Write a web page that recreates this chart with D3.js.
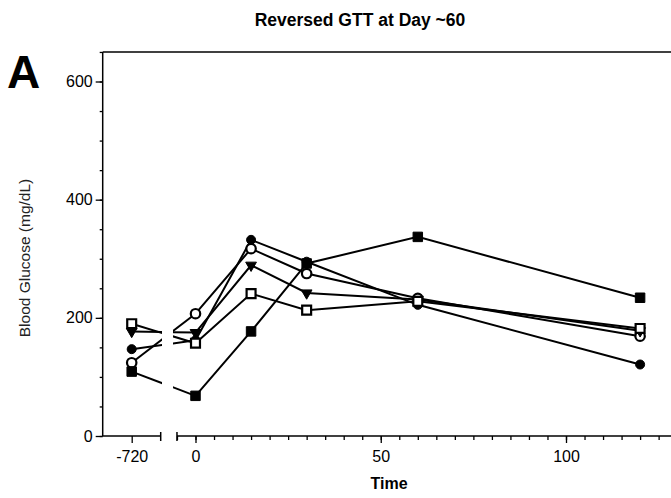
<!DOCTYPE html>
<html>
<head>
<meta charset="utf-8">
<script src="https://cdn.jsdelivr.net/npm/d3@7"></script>
<style>
body { margin: 0; background: #fff; }
text { font-family: "Liberation Sans", Arial, sans-serif; fill: #000; }
</style>
</head>
<body>
<div id="chart-area"></div>
<script>
// time points (minutes); -720 sits on its own broken segment
var times = [-720, 0, 15, 30, 60, 120];

// blood glucose (mg/dL) per animal
var filledCircle = [147, 162, 332, 295, 222, 121];
var openCircle   = [124, 207, 317, 275, 233, 169];
var triDown      = [177, 175, 289, 242, 231, 178];
var openSquare   = [190, 157, 241, 213, 228, 182];
var filledSquare = [109, 68, 177, 292, 337, 234];

var yTicks = [0, 200, 400, 600];
var xTicks = [0, 50, 100];

var series = [
  {name: "filledCircle", values: filledCircle, shape: "circle", fill: true},
  {name: "openCircle", values: openCircle, shape: "circle", fill: false},
  {name: "triDown", values: triDown, shape: "tri", fill: true},
  {name: "openSquare", values: openSquare, shape: "square", fill: false},
  {name: "filledSquare", values: filledSquare, shape: "square", fill: true}
];

var width = 671, height = 498;

var svg = d3.select("#chart-area").append("svg")
  .attr("width", width)
  .attr("height", height);

var y = d3.scaleLinear().domain([0, 600]).range([436, 81.5]);
var xL = d3.scaleLinear().domain([-728, -712]).range([102.7, 160.7]);
var xR = d3.scaleLinear().domain([0, 100]).range([195.5, 566]);
var axisY = 436;
var axisX = 102.7;
var xEnd = width;
var labelFont = "16px";

function xPos(t) { return t < -100 ? xL(t) : xR(t); }

// clip regions for the broken -720 -> 0 segment
var defs = svg.append("defs");
defs.append("clipPath").attr("id", "clipLeft")
  .append("rect").attr("x", 0).attr("y", 0).attr("width", 162).attr("height", height);
defs.append("clipPath").attr("id", "clipRight")
  .append("rect").attr("x", 173).attr("y", 0).attr("width", width).attr("height", height);

// title & panel letter
svg.append("text")
  .attr("x", 360).attr("y", 26)
  .attr("text-anchor", "middle")
  .style("font-size", "17.5px").style("font-weight", "bold")
  .text("Reversed GTT at Day ~60");

svg.append("text")
  .attr("x", 7).attr("y", 88)
  .style("font-size", "46px").style("font-weight", "bold")
  .text("A");

function styleLabels(g) {
  g.selectAll("text")
    .style("font-size", labelFont)
    .style("font-family", "Liberation Sans, Arial, sans-serif");
}

// y axis: minor then major
var yMinor = d3.range(0, 651, 50);
svg.append("g")
  .attr("transform", "translate(" + axisX + ",0)")
  .call(d3.axisLeft(y).tickValues(yMinor).tickSize(3).tickFormat("").tickSizeOuter(0))
  .call(g => g.select(".domain").remove());
svg.append("g")
  .attr("transform", "translate(" + axisX + ",0)")
  .call(d3.axisLeft(y).tickValues(yTicks).tickSize(7).tickPadding(3).tickSizeOuter(0))
  .call(g => g.select(".domain").remove())
  .call(styleLabels);

svg.append("line")
  .attr("x1", axisX).attr("x2", axisX)
  .attr("y1", axisY).attr("y2", y(650))
  .attr("stroke", "#000").attr("stroke-width", 1.5);

// top frame
svg.append("line")
  .attr("x1", axisX).attr("x2", xEnd)
  .attr("y1", y(650)).attr("y2", y(650))
  .attr("stroke", "#000").attr("stroke-width", 1.5);

// x axis, left segment
svg.append("g")
  .attr("transform", "translate(0," + axisY + ")")
  .call(d3.axisBottom(xL).tickValues([-720]).tickFormat(d => String(d)).tickSize(7).tickPadding(8).tickSizeOuter(0))
  .call(g => g.select(".domain").remove())
  .call(styleLabels);
svg.append("line")
  .attr("x1", axisX).attr("x2", xL(-712))
  .attr("y1", axisY).attr("y2", axisY)
  .attr("stroke", "#000").attr("stroke-width", 1.5);

// x axis, right segment
var xMinor = d3.range(-5, 130, 5);
svg.append("g")
  .attr("transform", "translate(0," + axisY + ")")
  .call(d3.axisBottom(xR).tickValues(xMinor).tickSize(4).tickFormat("").tickSizeOuter(0))
  .call(g => g.select(".domain").remove());
svg.append("g")
  .attr("transform", "translate(0," + axisY + ")")
  .call(d3.axisBottom(xR).tickValues(xTicks).tickSize(7).tickPadding(8).tickSizeOuter(0))
  .call(g => g.select(".domain").remove())
  .call(styleLabels);
svg.append("line")
  .attr("x1", xR(-5)).attr("x2", xEnd)
  .attr("y1", axisY).attr("y2", axisY)
  .attr("stroke", "#000").attr("stroke-width", 1.5);

// break ticks
[xL(-712), xR(-5)].forEach(function(bx) {
  svg.append("line")
    .attr("x1", bx).attr("x2", bx)
    .attr("y1", axisY - 4).attr("y2", axisY + 5)
    .attr("stroke", "#000").attr("stroke-width", 1.5);
});

svg.selectAll(".tick line").attr("stroke", "#000").attr("stroke-width", 1.3);

// axis titles
svg.append("text")
  .attr("x", 389).attr("y", 489)
  .attr("text-anchor", "middle")
  .style("font-size", "16px").style("font-weight", "bold")
  .text("Time");

svg.append("text")
  .attr("transform", "translate(30,258) rotate(-90)")
  .attr("text-anchor", "middle")
  .style("font-size", "15.5px")
  .style("fill", "#222")
  .text("Blood Glucose (mg/dL)");

// lines
var line = d3.line()
  .x(d => xR(d.t))
  .y(d => y(d.v));

series.forEach(function(s) {
  var pts = times.map((t, i) => ({t: t, v: s.values[i]}));
  var first = pts[0], second = pts[1];
  ["clipLeft", "clipRight"].forEach(function(c) {
    svg.append("line")
      .attr("clip-path", "url(#" + c + ")")
      .attr("x1", xL(first.t)).attr("y1", y(first.v))
      .attr("x2", xR(second.t)).attr("y2", y(second.v))
      .attr("stroke", "#000").attr("stroke-width", 2);
  });
  svg.append("path")
    .datum(pts.slice(1))
    .attr("d", line)
    .attr("fill", "none")
    .attr("stroke", "#000")
    .attr("stroke-width", 2);
});

// markers
var sym = {
  circle: d3.symbol().type(d3.symbolCircle),
  square: d3.symbol().type(d3.symbolSquare),
  tri: d3.symbol().type(d3.symbolTriangle)
};

series.forEach(function(s) {
  var pts = times.map((t, i) => ({t: t, v: s.values[i]}));
  svg.append("g").selectAll("path")
    .data(pts)
    .enter()
    .append("path")
      .attr("d", d => {
        var size = s.shape === "circle" ? (s.fill ? 64 : 70) : (s.shape === "tri" ? 50 : (s.fill ? 90 : 80));
        return sym[s.shape].size(size)();
      })
      .attr("transform", d => "translate(" + xPos(d.t) + "," + y(d.v) + ")" + (s.shape === "tri" ? " rotate(180)" : ""))
      .attr("fill", s.fill ? "#000" : "#fff")
      .attr("stroke", "#000")
      .attr("stroke-width", s.fill ? 1 : 2.2);
});
</script>
</body>
</html>
